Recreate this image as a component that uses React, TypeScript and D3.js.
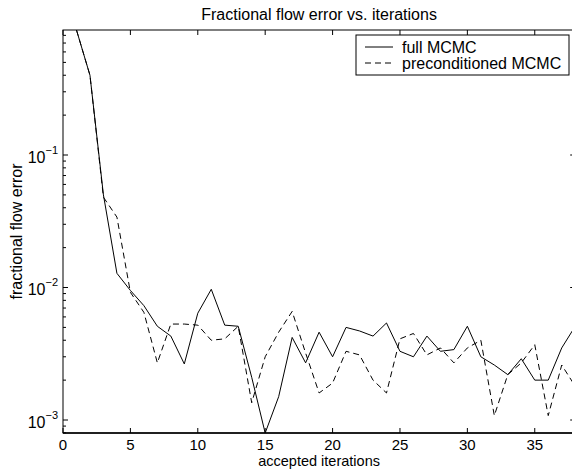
import React from "react";
import * as d3 from "d3";

const iterations = [1,2,3,4,5,6,7,8,9,10,11,12,13,14,15,16,17,18,19,20,21,22,23,24,25,26,27,28,29,30,31,32,33,34,35,36,37,38];
const fullMCMC = [0.878,0.40,0.050,0.0128,0.0095,0.0073,0.0051,0.0043,0.00265,0.0064,0.0097,0.0052,0.0051,0.0021,0.000798,0.0015,0.0042,0.0027,0.0046,0.0030,0.0050,0.0047,0.0043,0.0054,0.0033,0.0030,0.0043,0.0033,0.0034,0.0051,0.0030,0.0026,0.0022,0.0029,0.0020,0.0020,0.0035,0.0051];
const precondMCMC = [0.878,0.40,0.048,0.034,0.0092,0.0065,0.0027,0.0053,0.0053,0.0052,0.0040,0.0041,0.0051,0.00135,0.0030,0.0046,0.0066,0.0032,0.0016,0.0019,0.0033,0.0031,0.0020,0.0016,0.0041,0.0045,0.0031,0.0035,0.0027,0.0035,0.0040,0.00108,0.0022,0.0027,0.0037,0.00108,0.0026,0.0018];
const xTicks = [0,5,10,15,20,25,30,35];
const yMajor = [1e-3,1e-2,1e-1];
const yExp = ["−3","−2","−1"];
const seriesNames = ["full MCMC","preconditioned MCMC"];
const titleText = "Fractional flow error vs. iterations";
const xLabel = "accepted iterations";
const yLabel = "fractional flow error";

const W = 572, H = 470;
const L = 63, R = 575.2, T = 30, B = 433;
const FONT = "'Liberation Sans', Arial, Helvetica, sans-serif";

export default function App() {
  const all = fullMCMC.concat(precondMCMC);
  const x = d3.scaleLinear().domain([0, 38]).range([L, R]);
  const y = d3.scaleLog().domain([d3.min(all) as number, d3.max(all) as number]).range([B, T]);
  const line = d3.line<number>().x((_, i) => x(iterations[i])).y((v) => y(v));
  const [y0, y1] = y.domain();
  const minors: number[] = [];
  for (let e = -4; e <= 0; e++) {
    for (let m = 2; m <= 9; m++) {
      const v = m * Math.pow(10, e);
      if (v >= y0 && v <= y1) minors.push(v);
    }
  }
  const majors = yMajor.filter((v) => v >= y0 && v <= y1);
  return (
    <svg width={W} height={H} style={{ position: "absolute", left: 0, top: 0, background: "#fff" }} fontFamily={FONT}>
      <defs>
        <clipPath id="plot">
          <rect x={L} y={T} width={R - L} height={B - T} />
        </clipPath>
      </defs>
      <rect x={0} y={0} width={W} height={H} fill="#fff" />
      <rect x={L} y={T} width={R - L} height={B - T} fill="none" stroke="#000" strokeWidth={1} />
      <line x1={L} x2={R} y1={B} y2={B} stroke="#000" strokeWidth={1.5} />
      {xTicks.map((t) => (
        <g key={"xt" + t}>
          <line x1={x(t)} x2={x(t)} y1={B} y2={B - 5} stroke="#000" />
          <line x1={x(t)} x2={x(t)} y1={T} y2={T + 5} stroke="#000" />
          <text x={x(t)} y={449.5} fontSize={15} textAnchor="middle">{t}</text>
        </g>
      ))}
      {minors.map((v, i) => (
        <g key={"ym" + i}>
          <line x1={L} x2={L + 3} y1={y(v)} y2={y(v)} stroke="#000" />
          <line x1={R} x2={R - 3} y1={y(v)} y2={y(v)} stroke="#000" />
        </g>
      ))}
      {majors.map((v, i) => (
        <g key={"yM" + i}>
          <line x1={L} x2={L + 5} y1={y(v)} y2={y(v)} stroke="#000" />
          <line x1={R} x2={R - 5} y1={y(v)} y2={y(v)} stroke="#000" />
          <text x={58} y={y(v) + 7.5} fontSize={16} textAnchor="end">
            10<tspan dy={-9} fontSize={11}>{yExp[yMajor.indexOf(v)]}</tspan>
          </text>
        </g>
      ))}
      <g clipPath="url(#plot)">
        <path d={line(fullMCMC) || ""} fill="none" stroke="#000" strokeWidth={1} />
        <path d={line(precondMCMC) || ""} fill="none" stroke="#000" strokeWidth={1} strokeDasharray="6,4" />
      </g>
      <rect x={356} y={35} width={213} height={40} fill="#fff" stroke="#000" strokeWidth={1} />
      <line x1={365} x2={393} y1={47} y2={47} stroke="#000" />
      <text x={402} y={52.5} fontSize={16}>{seriesNames[0]}</text>
      <line x1={365} x2={393} y1={63} y2={63} stroke="#000" strokeDasharray="6,4" />
      <text x={402} y={68.5} fontSize={16}>{seriesNames[1]}</text>
      <text x={(L + R) / 2} y={20} fontSize={16} textAnchor="middle">{titleText}</text>
      <text x={(L + R) / 2} y={466} fontSize={14.5} textAnchor="middle">{xLabel}</text>
      <text transform={`translate(22,${(T + B) / 2}) rotate(-90)`} fontSize={16} textAnchor="middle">{yLabel}</text>
    </svg>
  );
}
